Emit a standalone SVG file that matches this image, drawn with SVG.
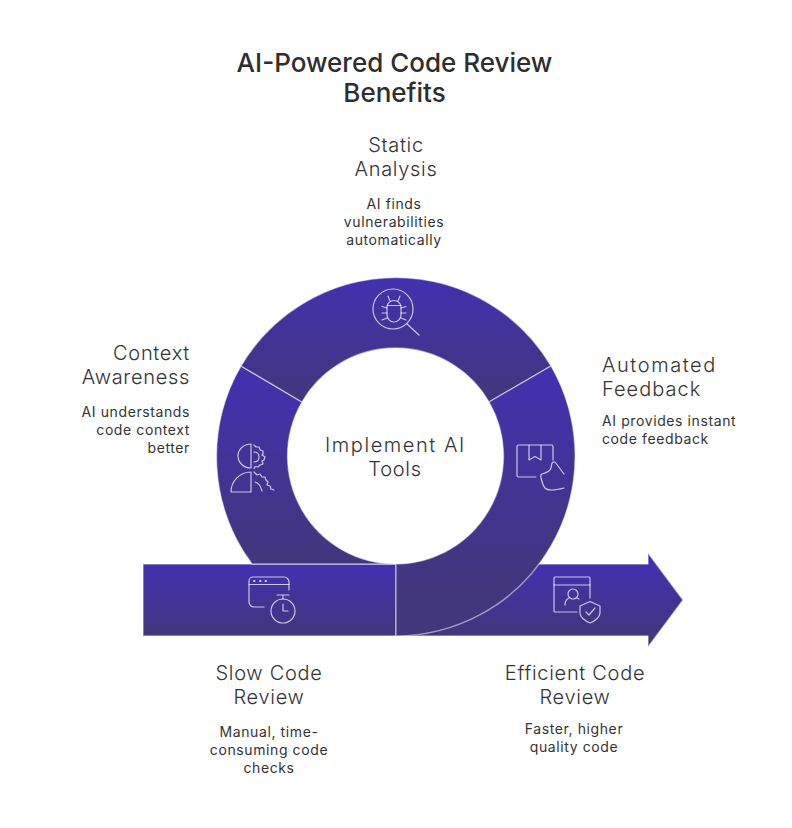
<svg xmlns="http://www.w3.org/2000/svg" width="792" height="828" viewBox="0 0 792 828">
<style>
text{font-family:"Inter","Noto Sans","Liberation Sans",sans-serif;text-anchor:middle}
.t{font-size:26px;font-weight:500;fill:#2e2e2e}
.h{font-size:20px;font-weight:300;fill:#333;letter-spacing:.7px}
.d{font-size:14px;font-weight:400;fill:#333;letter-spacing:.6px}
.r{text-anchor:end}.l{text-anchor:start}
.seg{stroke:#fff;stroke-opacity:.5;stroke-width:1.4}
.i{fill:none;stroke:#fff;stroke-opacity:.72;stroke-width:1.2;stroke-linecap:round;stroke-linejoin:round}
</style>
<defs>
<linearGradient id="gA" gradientUnits="userSpaceOnUse" x1="0" y1="564" x2="0" y2="636"><stop offset="0" stop-color="#4330B0"/><stop offset="1" stop-color="#42367C"/></linearGradient>
<linearGradient id="gT" gradientUnits="userSpaceOnUse" x1="0" y1="276" x2="0" y2="402"><stop offset="0" stop-color="#4330B0"/><stop offset="1" stop-color="#42367C"/></linearGradient>
<linearGradient id="gL" gradientUnits="userSpaceOnUse" x1="0" y1="366" x2="0" y2="564"><stop offset="0" stop-color="#4330B0"/><stop offset="1" stop-color="#42367C"/></linearGradient>
<linearGradient id="gR" gradientUnits="userSpaceOnUse" x1="0" y1="366" x2="0" y2="590"><stop offset="0" stop-color="#4330B0"/><stop offset="1" stop-color="#42367C"/></linearGradient>
</defs>
<g id="title"><text class="t" x="394.500" y="72">AI-Powered Code Review</text><text class="t" x="394.500" y="102">Benefits</text></g>
<g id="connectors"></g>
<g id="node-efficient">
<path class="seg" fill="url(#gA)" d="M396 564H648V553L683 600L648 647V636H396Z"/>
<g class="i"><path d="M577 612H555a1 1 0 0 1-1-1V578a1 1 0 0 1 1-1H589a1 1 0 0 1 1 1V598"/><path d="M554 585H590"/><circle cx="573" cy="594" r="5"/><path d="M565 605c0-4 2-6 4-7M577 598l2 1"/><path d="M580 606l10-4.500L600 606V613c0 4-5 8-10 10c-5-2-10-6-10-10Z"/><path d="M586 612l3 3L595 608"/></g>
<text class="h" x="575" y="680">Efficient Code</text><text class="h" x="575" y="704">Review</text>
<text class="d" x="574" y="734">Faster, higher</text><text class="d" x="574" y="752">quality code</text>
</g>
<g id="node-slow">
<path class="seg" fill="url(#gA)" d="M143 564H396V636H143Z"/>
<g class="i"><path d="M264 607H254a5 5 0 0 1-5-5V581a4 4 0 0 1 4-4H284a5 5 0 0 1 5 5V590"/><path d="M249 584.500H289"/><path d="M254 581h.6M260 581h.6M265.500 581h.6" stroke-width="2"/><circle cx="283" cy="611" r="12"/><path d="M277 595H289M283 595V599M283 604V611H288"/></g>
<text class="h" x="269" y="680">Slow Code</text><text class="h" x="269" y="704">Review</text>
<text class="d" x="269" y="737">Manual, time-</text><text class="d" x="269" y="755">consuming code</text><text class="d" x="269" y="773">checks</text>
</g>
<g id="node-context">
<path class="seg" fill="url(#gL)" d="M241 366L302 402A108 108 0 0 0 396 564H252A180 180 0 0 1 241 366Z"/>
<g class="i"><path d="M251 444V468C243 468 238 462 238 456S243 444 251 444Z"/><path d="M251 472V492H231C231 481 240 472 251 472Z"/><path d="M254 445l2 2l3 0l1 3l3 1l0 3l-1 1l3 2l-1 3l-2 1l1 3l-3 1l-2 2l-3-.5l-1 2"/><path d="M254 452c3 0 5 2 5 5s-2 5-5 5"/><path d="M254 472l3 3l3-1l2 3l3 0l1 3l2 2l-1 3l3 1l1 3l3 1"/><path d="M255 482c4 1 6 5 7 9"/></g>
<text class="h r" x="190" y="360">Context</text><text class="h r" x="190" y="384">Awareness</text>
<text class="d r" x="190" y="417">AI understands</text><text class="d r" x="190" y="435">code context</text><text class="d r" x="190" y="453">better</text>
</g>
<g id="node-static">
<path class="seg" fill="url(#gT)" d="M241 366A180 180 0 0 1 551 366L489 402A108 108 0 0 0 302 402Z"/>
<g class="i"><circle cx="393" cy="309" r="20"/><path d="M407 324L419 335"/><path d="M387 307a7 6.500 0 0 1 14 0V315a7 7 0 0 1-14 0Z"/><path d="M387 305.500H401M390 301L388 296M398 301L400 296M387 308L382 306.500M387 313H382M387 318L382 320M401 308L406 306.500M401 313H406M401 318L406 320"/></g>
<text class="h" x="396" y="152">Static</text><text class="h" x="396" y="176">Analysis</text>
<text class="d" x="394" y="209">AI finds</text><text class="d" x="394" y="227">vulnerabilities</text><text class="d" x="394" y="245">automatically</text>
</g>
<g id="node-automated">
<path class="seg" fill="url(#gR)" d="M551 366A180 180 0 0 1 396 636V564A108 108 0 0 0 489 402Z"/>
<g class="i"><path d="M536 477H518.500a1.500 1.500 0 0 1-1.500-1.500V446.500a1.500 1.500 0 0 1 1.500-1.500H551.500a1.500 1.500 0 0 1 1.500 1.500V460"/><path d="M529 445V460L535 456.500L541 460V445"/><path d="M564 474L555 462C552 461 551.500 464 551 468C550 471 548 472 542 474C540 475 541 478 541 478C542 482 543 486 545 488C547 490 550 490 552 490C556 490 560 489 564 488"/></g>
<text class="h l" x="602" y="372" textLength="114">Automated</text><text class="h l" x="602" y="396" textLength="99">Feedback</text>
<text class="d l" x="602" y="426">AI provides instant</text><text class="d l" x="602" y="444">code feedback</text>
</g>
<g id="node-center"><text class="h" x="395" y="452" textLength="140">Implement AI</text><text class="h" x="395" y="476">Tools</text></g>
</svg>
